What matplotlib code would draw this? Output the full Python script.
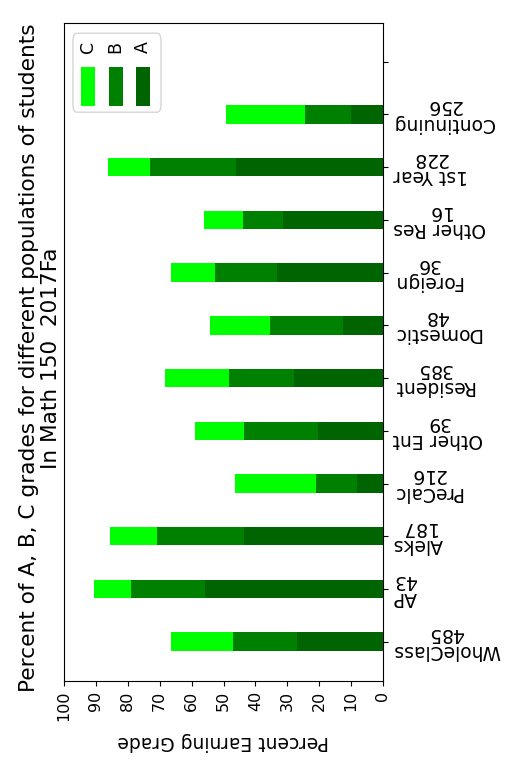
import numpy as np
import matplotlib
matplotlib.use("Agg")
import matplotlib.pyplot as plt
from matplotlib.patches import FancyBboxPatch, Rectangle

# Student populations and their sizes
populations = ["WholeClass", "AP", "Aleks", "PreCalc", "Other Ent", "Resident",
               "Domestic", "Foreign", "Other Res", "1st Year", "Continuing"]
counts = [485, 43, 187, 216, 39, 385, 48, 36, 16, 228, 256]

# Percent of each population earning each grade
pct_A = [26.9, 55.8, 43.5, 8.1, 20.5, 27.8, 12.5, 33.3, 31.25, 46.0, 9.9]
pct_B = [20.1, 23.3, 27.3, 12.9, 23.1, 20.4, 22.9, 19.4, 12.5, 27.0, 14.5]
pct_C = [19.4, 11.6, 14.8, 25.4, 15.4, 20.1, 18.75, 13.9, 12.5, 13.2, 24.8]

value_ticks = [0, 10, 20, 30, 40, 50, 60, 70, 80, 90, 100]

col_A = "#006400"
col_B = "#008000"
col_C = "#00ff00"

W, H, DPI = 507, 761, 100
fig = plt.figure(figsize=(W / DPI, H / DPI), dpi=DPI)
ax = fig.add_axes([64 / W, 1 - 680.7 / H, (383 - 64) / W, (680.7 - 22.7) / H])

pos = np.arange(len(populations))
a = np.array(pct_A)
b = np.array(pct_B)
c = np.array(pct_C)
bw = 0.35
ax.barh(pos, a, height=bw, color=col_A, label="A")
ax.barh(pos, b, height=bw, left=a, color=col_B, label="B")
ax.barh(pos, c, height=bw, left=a + b, color=col_C, label="C")

ax.set_xlim(100, 0)
ax.set_ylim(-0.74, len(populations) + 0.74)

# category axis on the right, labels upside down
ax.yaxis.tick_right()
ticks = np.arange(len(populations) + 1)
labels = [f"{p}\n{n}" for p, n in zip(populations, counts)] + [""]
ax.set_yticks(ticks)
ax.set_yticklabels(labels, rotation=180, va="center", ha="left",
                   multialignment="center", fontsize=13.5, linespacing=0.88)

ax.set_xticks(value_ticks)
ax.set_xticklabels([str(v) for v in value_ticks], rotation=90, fontsize=11.5)
ax.set_xlabel("Percent Earning Grade", rotation=180, fontsize=13.5, labelpad=8)

fig.text(40 / W, 1 - 358 / H,
         "Percent of A, B, C grades for different populations of students\n"
         "In Math 150  2017Fa",
         rotation=90, ha="center", va="center", multialignment="center",
         fontsize=15.6, linespacing=1.1)

# legend box drawn sideways
box = FancyBboxPatch((0.028, 0.864), 0.276, 0.12,
                     boxstyle="round,pad=0,rounding_size=0.012",
                     transform=ax.transAxes, facecolor="white",
                     edgecolor="#cccccc", linewidth=1.0, alpha=0.8, zorder=5)
ax.add_patch(box)
for i, (lab, col) in enumerate([("C", col_C), ("B", col_B), ("A", col_A)]):
    x0 = 0.0533 + i * 0.0865
    ax.add_patch(Rectangle((x0, 0.873), 0.044, 0.059, transform=ax.transAxes,
                           facecolor=col, edgecolor="none", zorder=6))
    ax.text(x0 + 0.022, 0.963, lab, rotation=90, ha="center", va="center",
            transform=ax.transAxes, fontsize=12.5, zorder=6)

fig.savefig("out.png", dpi=DPI)
